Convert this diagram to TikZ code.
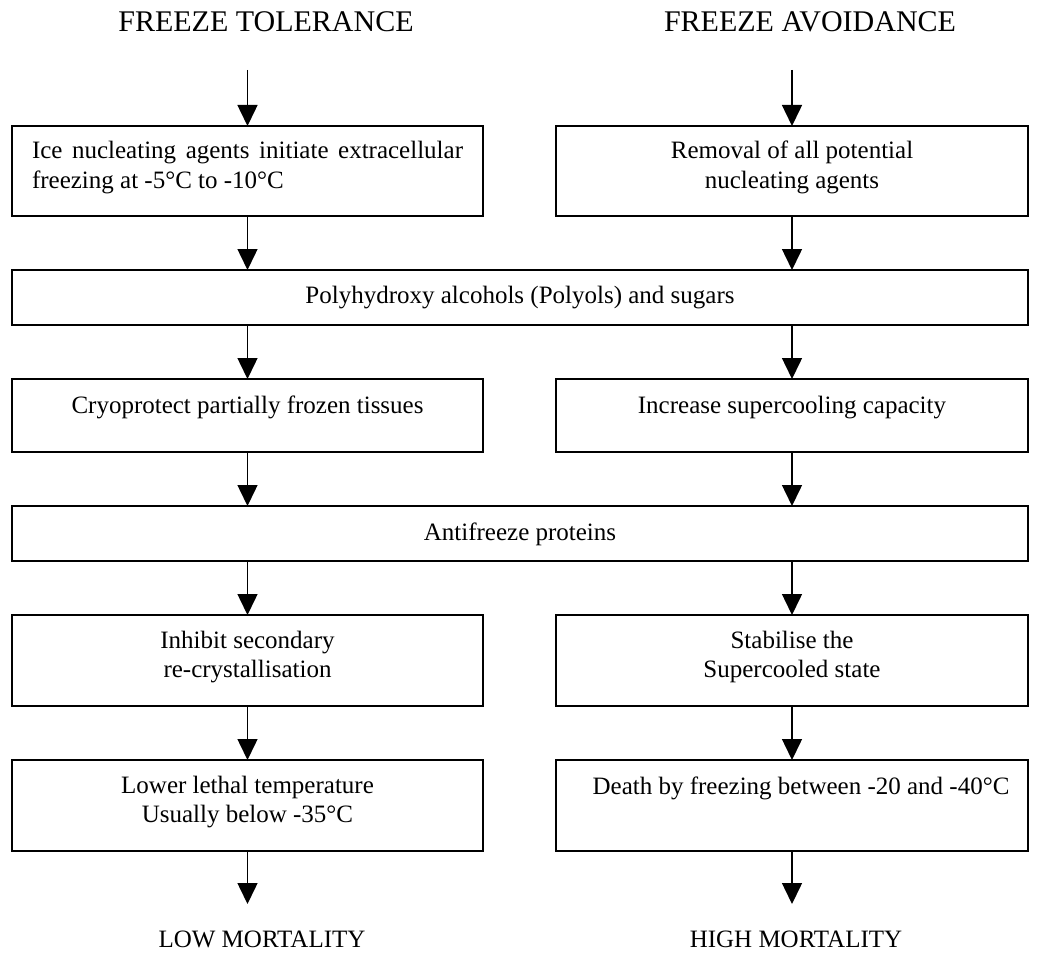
\documentclass[tikz,border=0pt]{standalone}
\usepackage{fontspec}
\setmainfont{Liberation Serif}
\usetikzlibrary{arrows.meta}

\tikzset{
  box/.style={draw, line width=2pt, inner sep=0pt, outer sep=0pt, anchor=north west},
  arr/.style={line width=1.5pt, -{Triangle[length=21pt,width=20pt]}},
  txt/.style={inner sep=0pt, anchor=base, align=center, font=\fontsize{25}{29.5}\selectfont},
  ttl/.style={inner sep=0pt, anchor=base, font=\fontsize{30}{36}\selectfont}
}

\begin{document}
\begin{tikzpicture}[x=1pt,y=1pt,yscale=-1,xscale=1]
\useasboundingbox (0,0) rectangle (1040,952);

%Shape: Rectangle left column
\node[box, minimum width=471, minimum height=90] (tol1) at (12,126) {};
\node[box, minimum width=471, minimum height=73] (tol3) at (12,379) {};
\node[box, minimum width=471, minimum height=91] (tol5) at (12,615) {};
\node[box, minimum width=471, minimum height=91] (tol6) at (12,760) {};
%Shape: Rectangle right column
\node[box, minimum width=472, minimum height=90] (avo1) at (556,126) {};
\node[box, minimum width=472, minimum height=73] (avo3) at (556,379) {};
\node[box, minimum width=472, minimum height=91] (avo5) at (556,615) {};
\node[box, minimum width=472, minimum height=91] (avo6) at (556,760) {};
%Shape: Rectangle full width
\node[box, minimum width=1016, minimum height=55] (poly) at (12,270) {};
\node[box, minimum width=1016, minimum height=55] (anti) at (12,506) {};

\coordinate (tolin) at (247.5,70);
\coordinate (avoin) at (792,70);
\coordinate (tolout) at (247.5,904);
\coordinate (avoout) at (792,904);

%Straight Lines left
\draw[arr] (tolin) -- (tol1.north);
\draw[arr] (tol1.south) -- (tol1.south |- poly.north);
\draw[arr] (poly.south -| tol3.north) -- (tol3.north);
\draw[arr] (tol3.south) -- (tol3.south |- anti.north);
\draw[arr] (anti.south -| tol5.north) -- (tol5.north);
\draw[arr] (tol5.south) -- (tol6.north);
\draw[arr] (tol6.south) -- (tolout);
%Straight Lines right
\draw[arr] (avoin) -- (avo1.north);
\draw[arr] (avo1.south) -- (avo1.south |- poly.north);
\draw[arr] (poly.south -| avo3.north) -- (avo3.north);
\draw[arr] (avo3.south) -- (avo3.south |- anti.north);
\draw[arr] (anti.south -| avo5.north) -- (avo5.north);
\draw[arr] (avo5.south) -- (avo6.north);
\draw[arr] (avo6.south) -- (avoout);

% Text Node
\node[ttl] (tolttl) at (266,32) {FREEZE TOLERANCE};
% Text Node
\node[ttl] (avottl) at (810,32) {FREEZE AVOIDANCE};
% Text Node
\node[txt, text width=431, align=justify] (tol1t) at (247.5,159) {Ice nucleating agents initiate extracellular freezing at -5°C to -10°C};
% Text Node
\node[txt] (avo1t) at (792,188.5) {Removal of all potential\\nucleating agents};
% Text Node
\node[txt] (polyt) at (520,303) {Polyhydroxy alcohols (Polyols) and sugars};
% Text Node
\node[txt] (tol3t) at (247.5,413) {Cryoprotect partially frozen tissues};
% Text Node
\node[txt] (avo3t) at (792,413) {Increase supercooling capacity};
% Text Node
\node[txt] (antit) at (520,540) {Antifreeze proteins};
% Text Node
\node[txt] (tol5t) at (247.5,677.5) {Inhibit secondary\\re-crystallisation};
% Text Node
\node[txt] (avo5t) at (792,677.5) {Stabilise the\\Supercooled state};
% Text Node
\node[txt] (tol6t) at (247.5,822.5) {Lower lethal temperature\\Usually below -35°C};
% Text Node
\node[txt] (avo6t) at (801,794) {Death by freezing between -20 and -40°C};
% Text Node
\node[txt] (lowm) at (262,947) {LOW MORTALITY};
% Text Node
\node[txt] (highm) at (796,947) {HIGH MORTALITY};
\end{tikzpicture}
\end{document}
